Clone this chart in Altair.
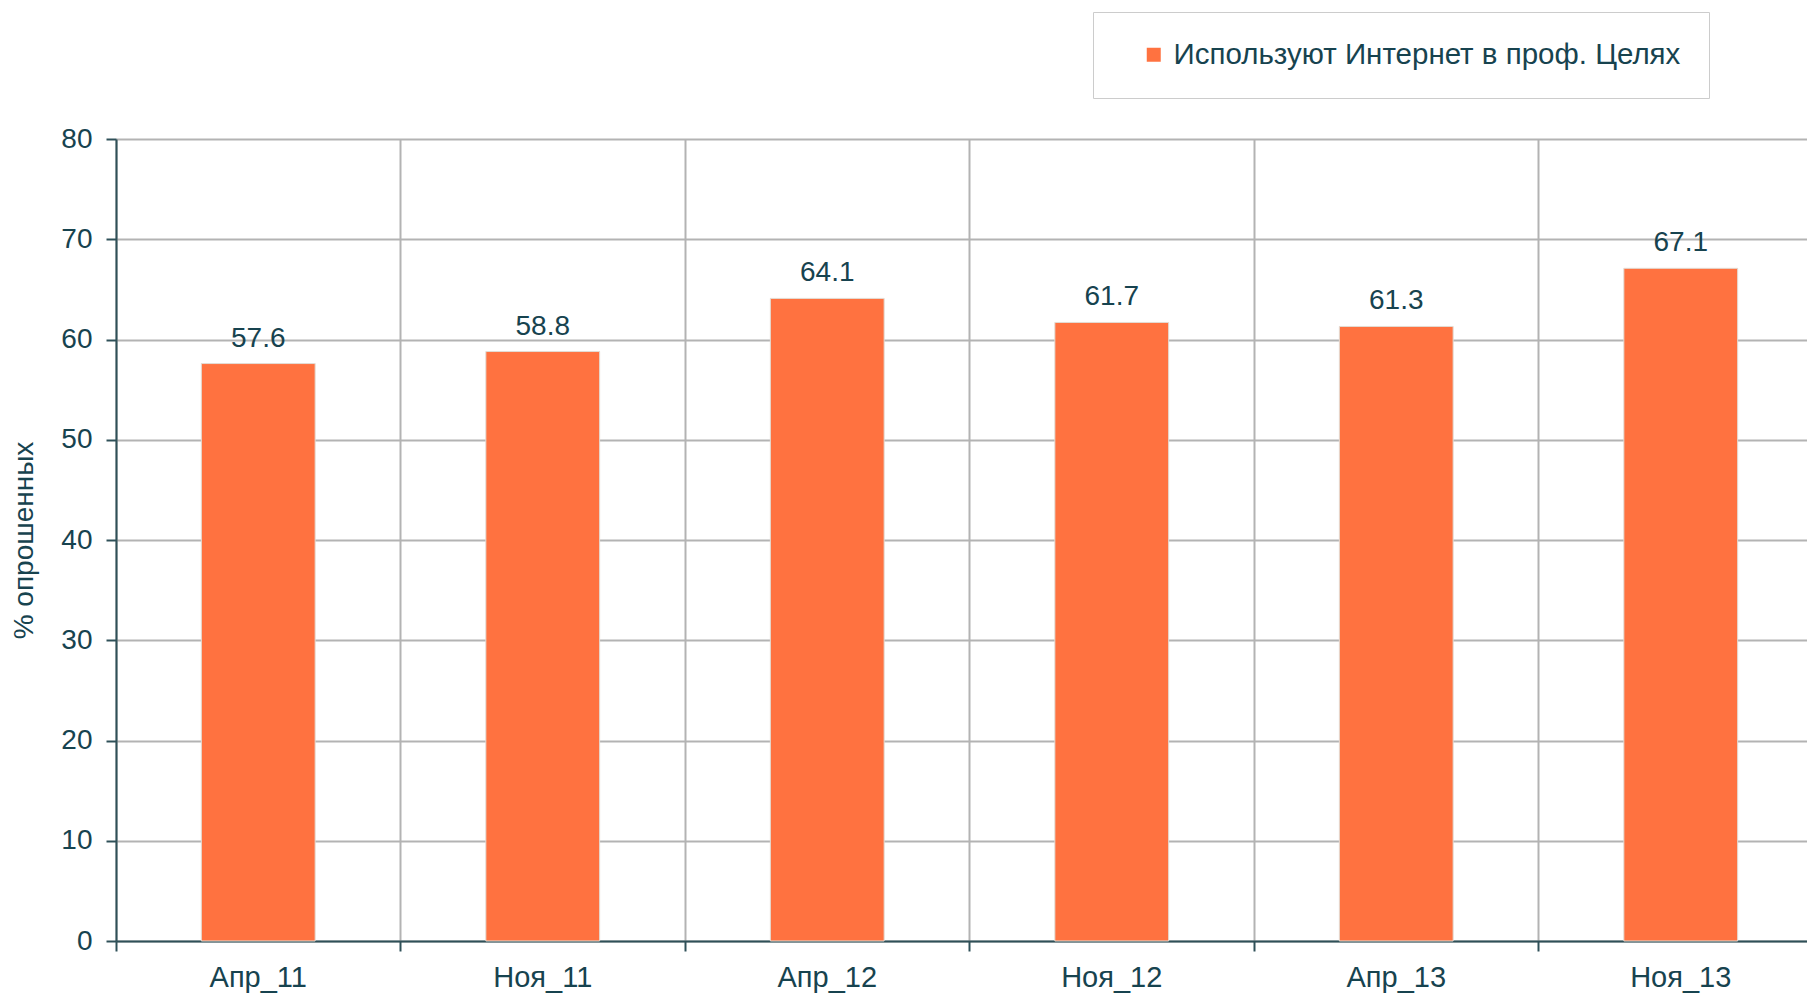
import altair as alt
import pandas as pd

periods = ["Апр_11", "Ноя_11", "Апр_12", "Ноя_12", "Апр_13", "Ноя_13"]
values = [57.6, 58.8, 64.1, 61.7, 61.3, 67.1]
series_name = "Используют Интернет в проф. Целях"
y_ticks = [0, 10, 20, 30, 40, 50, 60, 70, 80]

df = pd.DataFrame({"period": periods, "value": values, "series": [series_name] * len(periods)})

W = 1690
H = 802
X_RANGE = 1707
TEXT = "#17434f"
AXIS = "#2f5058"
GRID = "#b3b3b3"
FONT = "Liberation Sans"
ORANGE = "#FF7240"

x_enc = alt.X(
    "period:N", sort=periods, title=None,
    scale=alt.Scale(paddingInner=0, paddingOuter=0, range=[0, X_RANGE]),
    axis=alt.Axis(
        labelAngle=0, bandPosition=0,
        grid=True, gridColor=GRID, gridWidth=2,
        domainColor=AXIS, domainWidth=2, tickColor=AXIS, tickWidth=2, tickSize=10,
        labelPadding=12, labelFontSize=29, labelColor=TEXT, labelFont=FONT,
    ),
)
y_enc = alt.Y(
    "value:Q", title="% опрошенных",
    scale=alt.Scale(domain=[0, 80], nice=False),
    axis=alt.Axis(
        values=y_ticks, grid=True, gridColor=GRID, gridWidth=2,
        domainColor=AXIS, domainWidth=2, tickColor=AXIS, tickWidth=2, tickSize=10,
        labelPadding=14, labelFontSize=28, labelColor=TEXT, labelFont=FONT,
        titleFontSize=28, titleFontWeight="normal", titleColor=TEXT, titleFont=FONT,
        titlePadding=22,
    ),
)

bars = alt.Chart(df).mark_bar(
    width=alt.RelativeBandSize(0.4), stroke="#e3dcd4", strokeWidth=1
).encode(
    x=x_enc, y=y_enc,
    color=alt.Color(
        "series:N", scale=alt.Scale(range=[ORANGE]),
        legend=alt.Legend(
            title=None, orient="none", legendX=977, legendY=-127,
            padding=28, strokeColor="#cccccc", fillColor="white",
            symbolType="square", symbolSize=196, symbolOffset=18, symbolStrokeWidth=0,
            labelFontSize=29.5, labelColor=TEXT, labelFont=FONT, labelOffset=5,
            labelLimit=800,
        ),
    ),
)

labels = alt.Chart(df).mark_text(
    baseline="alphabetic", dy=-17, fontSize=28, color=TEXT, font=FONT
).encode(
    x=alt.X("period:N", sort=periods),
    y=alt.Y("value:Q"),
    text=alt.Text("value:Q", format=".1f"),
)

chart = alt.layer(bars, labels).properties(
    width=W, height=H,
    autosize=alt.AutoSizeParams(type="none"),
    padding={"left": 108, "top": 131, "right": 1, "bottom": 54},
    background="white",
).configure_view(stroke=None)

chart.save("out.html", embed_options={"renderer": "svg", "actions": False})
